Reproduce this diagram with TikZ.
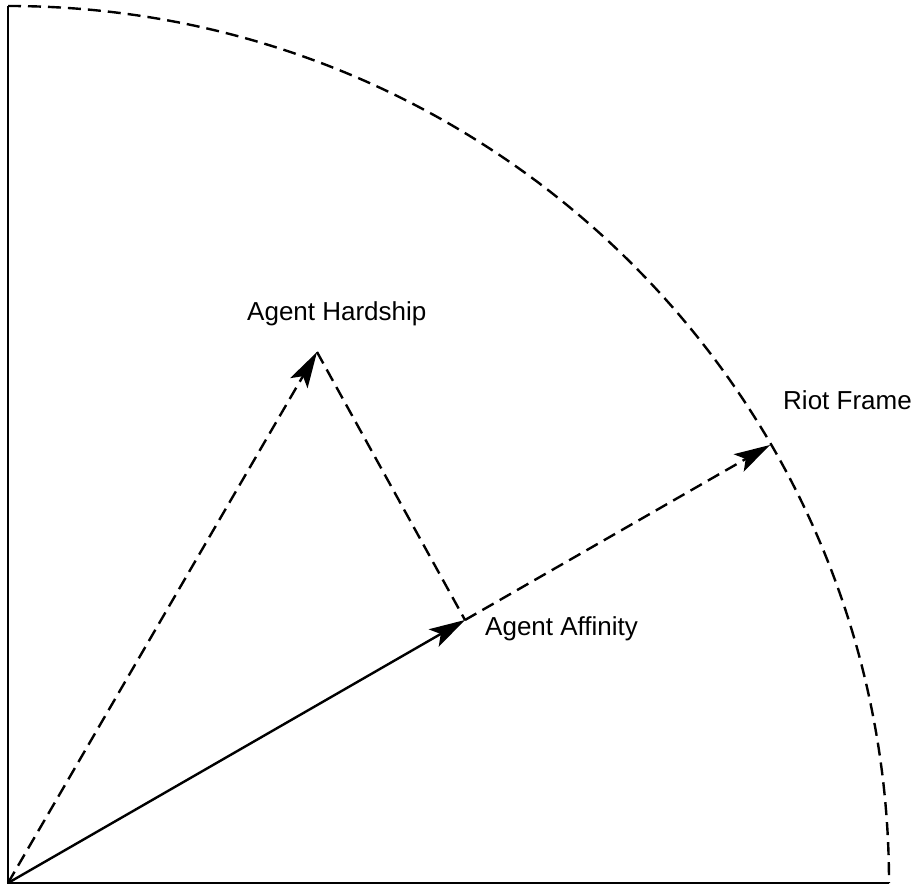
\documentclass[tikz,border=0pt]{standalone}
\usepackage{fontspec}
\setmainfont{Liberation Sans}
\usetikzlibrary{arrows.meta}
\begin{document}
\begin{tikzpicture}[x=1pt,y=1pt,
  axisline/.style={line width=2.4pt},
  dashline/.style={line width=2.4pt, dash pattern=on 13pt off 7pt},
  tip/.style={-{Stealth[length=36pt,width=20pt,inset=8pt]}},
  lbl/.style={font=\fontsize{26}{30}\selectfont, anchor=base west, inner sep=0pt}]
\useasboundingbox (0,0) rectangle (917,886);
\coordinate (O) at (8,3);
\coordinate (T) at (8,880);
\coordinate (E) at (889,3);
\coordinate (H) at (317,534);
\coordinate (F) at (465,266);
\coordinate (R) at (770,441);
\draw[axisline] (T) -- (O) -- (E);
\draw[dashline] (T) arc[start angle=90, end angle=0, x radius=881, y radius=877];
\draw[axisline, tip] (O) -- (F);
\draw[dashline, tip] (O) -- (H);
\draw[dashline] (H) -- (F);
\draw[dashline, tip] (F) -- (R);
\node[lbl] (lh) at (247,565) {Agent Hardship};
\node[lbl] (lf) at (485,251) {Agent Affinity};
\node[lbl] (lr) at (783,476) {Riot Frame};
\end{tikzpicture}
\end{document}
